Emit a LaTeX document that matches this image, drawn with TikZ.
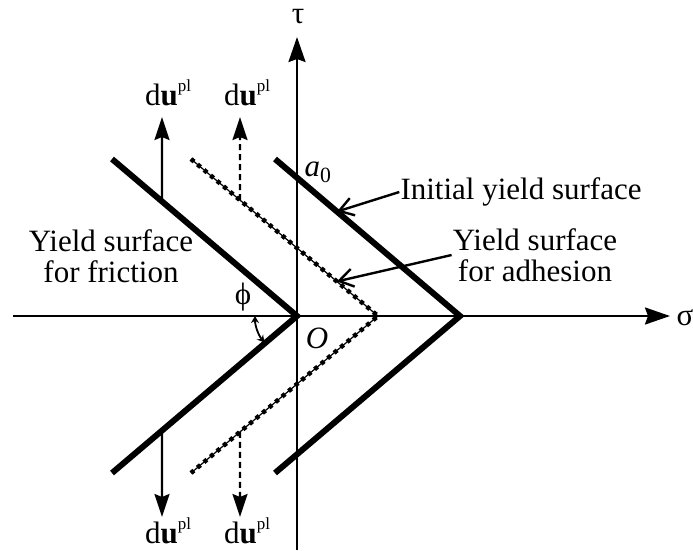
\documentclass[tikz,border=0pt]{standalone}
\usepackage{fontspec}
\setmainfont{Liberation Serif}
\usepackage{tikz}
\usetikzlibrary{arrows.meta,calc}
\newcommand{\dupl}{d\textbf{u}\raisebox{0.42em}{\fontsize{17}{17}\selectfont pl}}

\begin{document}
\begin{tikzpicture}[
    x=1pt, y=-1pt,
    >={Stealth[length=23pt, width=15pt, inset=3pt]},
    axis/.style={line width=2.4pt, -{Stealth[length=25pt, width=17pt, inset=3pt]}},
    surface/.style={line width=6pt},
    adhesion/.style={line width=1.2pt,
                     postaction={draw, line width=4.5pt,
                                 dash pattern=on 4pt off 4.5pt}},
    flow/.style={->, line width=2.4pt},
    dashflow/.style={->, line width=2.4pt, dash pattern=on 6pt off 4pt},
    note/.style={line width=2.4pt, -{Straight Barb[length=14pt, width=18pt]}},
    phiarc/.style={line width=1.8pt,
                   {Stealth[length=7pt, width=8pt]}-{Stealth[length=7pt, width=8pt]}},
    every node/.style={font=\fontsize{31}{31}\selectfont, inner sep=1pt},
  ]

  \useasboundingbox (0,0) rectangle (693,550);

  % Axes
  \coordinate (xl) at (13,316);
  \coordinate (xr) at (670,316);
  \coordinate (yb) at (297,550);
  \coordinate (yt) at (297,37);
  \draw[axis] (xl) -- (xr);
  \draw[axis] (yb) -- (yt);
  \node (tau) at (298,17) {τ};
  \node (sig) at (685,318) {σ};
  \node (orig) at (317,338) {\textit{O}};

  % Apexes
  \coordinate (O) at (297,316);
  \coordinate (A) at (378,316);
  \coordinate (I) at (460,316);

  % Yield surfaces
  \coordinate (fu) at (112,159);
  \coordinate (fd) at (112,473);
  \coordinate (au) at (191,159);
  \coordinate (ad) at (191,473);
  \coordinate (iu) at (275,159);
  \coordinate (id) at (275,473);
  \draw[surface] (fu) -- (O) -- (fd);
  \draw[adhesion] (au) -- (A) -- (ad);
  \draw[surface] (iu) -- (I) -- (id);
  \node (a0) at (318,172) {\textit{a}\textsubscript{0}};

  % Plastic flow directions
  \coordinate (ful) at ($(fu)!0.27!(O)$);
  \coordinate (fdl) at ($(fd)!0.27!(O)$);
  \coordinate (aul) at ($(au)!0.262!(A)$);
  \coordinate (adl) at ($(ad)!0.262!(A)$);
  \coordinate (ftu) at (162,117);
  \coordinate (ftd) at (162,517);
  \coordinate (atu) at (240,117);
  \coordinate (atd) at (240,517);
  \draw[flow] (ful) -- (ftu);
  \draw[flow] (fdl) -- (ftd);
  \draw[dashflow] (aul) -- (atu);
  \draw[dashflow] (adl) -- (atd);
  \node[anchor=base] (dufu) at (168,105) {\dupl};
  \node[anchor=base] (duau) at (247,105) {\dupl};
  \node[anchor=base] (dufd) at (168,543) {\dupl};
  \node[anchor=base] (duad) at (247,543) {\dupl};

  % Labels
  \node[align=center] (fric) at (111,256) {Yield surface\\for friction};
  \node (init) at (521,192) {Initial yield surface};
  \node[align=center] (adh) at (535,255) {Yield surface\\for adhesion};
  \coordinate (it) at ($(iu)!0.335!(I)$);
  \coordinate (at) at ($(au)!0.78!(A)$);
  \draw[note] (init.west) -- (it);
  \draw[note] (adh.west) -- (at);

  % Friction angle
  \draw[phiarc] ($(O)+(-42,0)$) arc[start angle=180, end angle=141, radius=42];
  \node (phi) at (243,297) {ϕ};

\end{tikzpicture}
\end{document}
